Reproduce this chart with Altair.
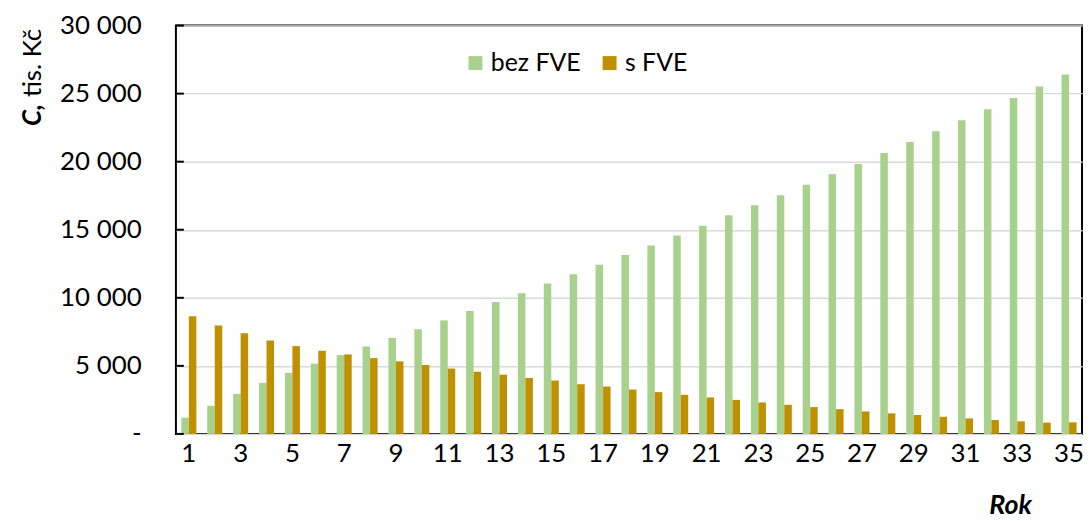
import altair as alt
import pandas as pd

years = list(range(1, 36))
bez_fve = [1190, 2070, 2940, 3750, 4480, 5160, 5790, 6420, 7060, 7690,
           8340, 9030, 9690, 10340, 11050, 11730, 12430, 13140, 13840, 14570,
           15300, 16060, 16790, 17540, 18300, 19070, 19830, 20630, 21440, 22240,
           23040, 23850, 24670, 25520, 26400]
s_fve = [8640, 7960, 7400, 6860, 6450, 6110, 5840, 5570, 5330, 5060,
         4800, 4570, 4350, 4110, 3920, 3650, 3480, 3260, 3070, 2870,
         2680, 2500, 2310, 2140, 1970, 1820, 1650, 1510, 1390, 1260,
         1140, 1020, 925, 830, 850]
series = ["bez FVE", "s FVE"]
colors = ["#A9D18E", "#BF9000"]
y_ticks = [0, 5000, 10000, 15000, 20000, 25000, 30000]

rows = []
for i, yr in enumerate(years):
    rows.append({"Rok": yr, "series": series[0], "C": bez_fve[i]})
    rows.append({"Rok": yr, "series": series[1], "C": s_fve[i]})
df = pd.DataFrame(rows)

FONT = "Lato"
FS = 26

yscale = alt.Scale(domain=[0, 30000], nice=False)

bars = alt.Chart(df).mark_bar().encode(
    x=alt.X("Rok:O",
            scale=alt.Scale(paddingInner=0.42, paddingOuter=0.21),
            axis=alt.Axis(labelAngle=0, labelFontSize=FS, labelFont=FONT,
                          labelColor="black", labelPadding=7,
                          labelExpr="datum.value % 2 == 1 ? datum.label : ''",
                          domain=False, ticks=False, tickSize=0,
                          title="Rok", titleFont=FONT, titleFontSize=27,
                          titleFontStyle="italic", titleFontWeight="bold",
                          titleColor="black", titleAlign="right",
                          titleBaseline="alphabetic", titleX=861, titleY=80)),
    xOffset=alt.XOffset("series:N", sort=series,
                        scale=alt.Scale(domain=series, paddingInner=0, paddingOuter=0)),
    y=alt.Y("C:Q", scale=yscale,
            axis=alt.Axis(values=y_ticks, title=None, grid=True,
                          gridColor="#D9D9D9", gridWidth=1.5,
                          domain=False, ticks=False, tickSize=0,
                          labelPadding=35, labelFontSize=FS, labelFont=FONT,
                          labelColor="black",
                          labelExpr="datum.value == 0 ? '-' : replace(format(datum.value, ','), ',', ' ')")),
    color=alt.Color("series:N",
                    scale=alt.Scale(domain=series, range=colors),
                    legend=alt.Legend(orient="none", legendX=289, legendY=25,
                                      direction="horizontal", title=None,
                                      symbolType="square", symbolSize=196,
                                      symbolStrokeWidth=0, labelFontSize=25,
                                      labelFont=FONT, labelColor="black",
                                      columnPadding=16, labelOffset=3)),
)

tick_df = pd.DataFrame({"C": y_ticks})
inner_ticks = alt.Chart(tick_df).mark_rule(color="black", strokeWidth=2).encode(
    y=alt.Y("C:Q", scale=yscale),
    x=alt.value(0), x2=alt.value(8),
)

t1 = alt.Chart(pd.DataFrame({"t": ["C,"]})).mark_text(
    angle=270, align="left", baseline="middle", font=FONT, fontSize=FS,
    fontStyle="italic", fontWeight="bold", color="black"
).encode(text="t:N", x=alt.value(-144), y=alt.value(101))

t2 = alt.Chart(pd.DataFrame({"t": ["tis. Kč"]})).mark_text(
    angle=270, align="left", baseline="middle", font=FONT, fontSize=FS,
    color="black"
).encode(text="t:N", x=alt.value(-144), y=alt.value(72))

chart = alt.layer(bars, inner_ticks, t1, t2).properties(
    width=912, height=411,
    autosize=alt.AutoSizeParams(type="none"),
    padding={"left": 169, "top": 16, "right": 2, "bottom": 90},
).configure(font=FONT).configure_view(stroke="black", strokeWidth=2)

chart.save("out.html", embed_options={"renderer": "svg", "actions": False})
